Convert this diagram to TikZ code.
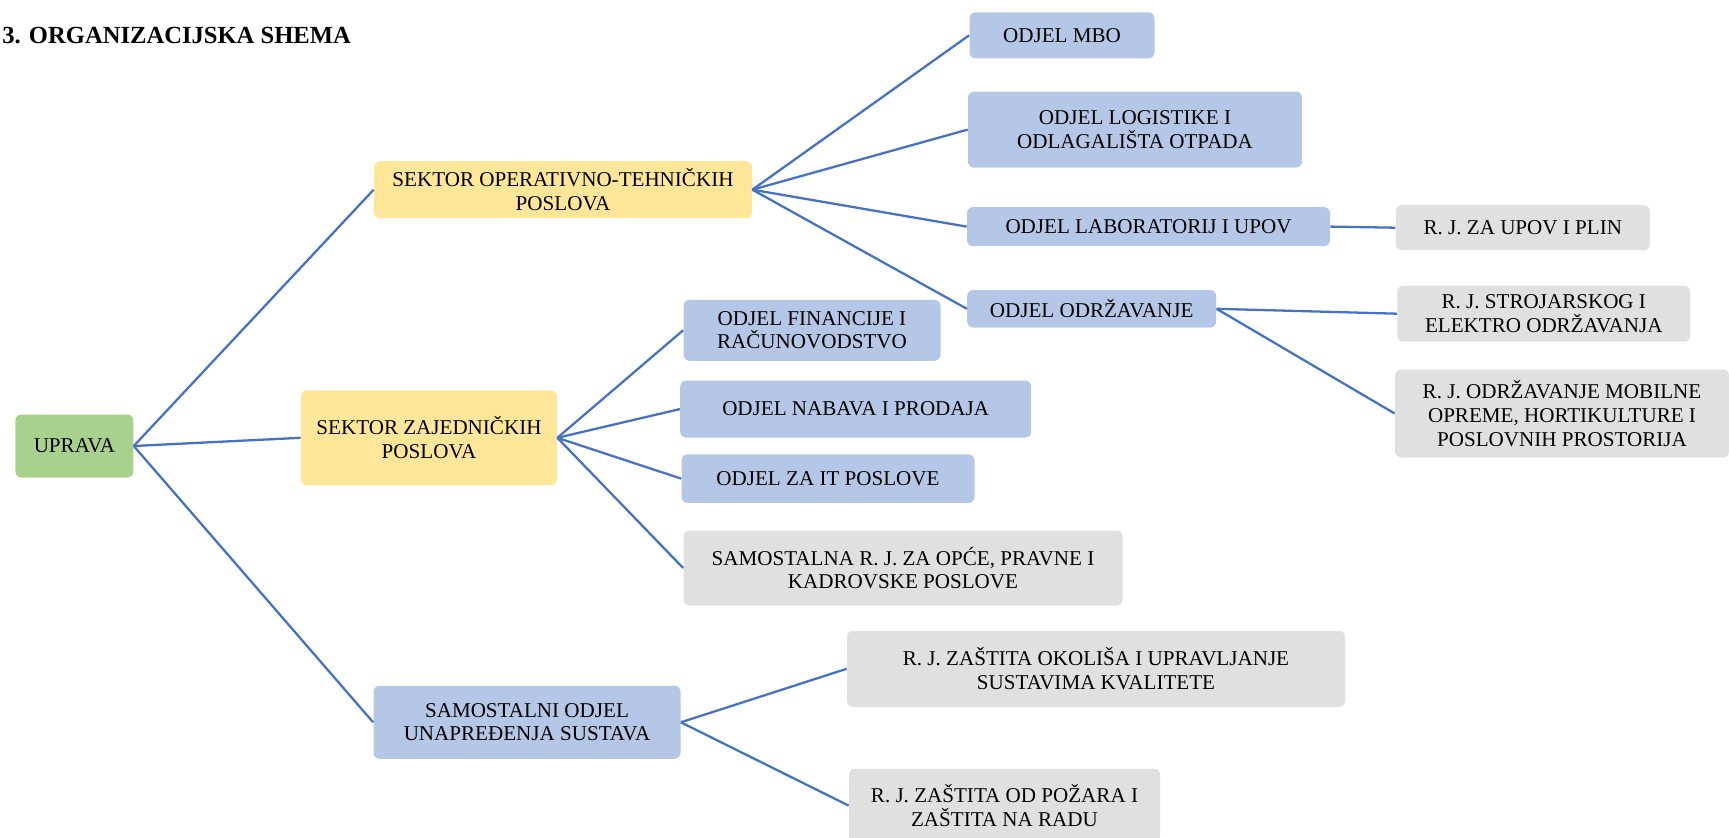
\documentclass[tikz,border=0pt]{standalone}
\usepackage{fontspec}
\setmainfont{Liberation Serif}
\usepackage{tikz}
\usetikzlibrary{positioning}
\definecolor{UpravaGreen}{RGB}{169, 209, 142}
\definecolor{SektorYellow}{RGB}{255, 230, 153}
\definecolor{OdjelBlue}{RGB}{180, 199, 231}
\definecolor{JedinicaGrey}{RGB}{224, 224, 224}
\definecolor{LinkBlue}{RGB}{68, 114, 196}

\tikzset{
  unit/.style={rounded corners=0.12cm, align=center, inner sep=2pt,
    font=\fontsize{12}{13.5}\selectfont},
  wh/.style 2 args={minimum width=#1*0.02cm, minimum height=#2*0.02cm},
  uprava/.style={unit, fill=UpravaGreen},
  sektor/.style={unit, fill=SektorYellow},
  odjel/.style={unit, fill=OdjelBlue},
  jedinica/.style={unit, fill=JedinicaGrey},
  link/.style={LinkBlue, line width=1.3pt}
}

\begin{document}
\begin{tikzpicture}[x=0.02cm, y=-0.02cm]
    \useasboundingbox (0,0) rectangle (1729,838);

    % Naslov
    \node[anchor=base west, inner sep=0pt, font=\fontsize{14}{16}\selectfont\bfseries] (naslov) at (2,44) {3. ORGANIZACIJSKA SHEMA};

    % Uprava i sektori
    \node[uprava, wh={118}{63}] (upr) at (74.4,446) {UPRAVA};
    \node[sektor, wh={378}{57}] (sot) at (563,189.7) {SEKTOR OPERATIVNO-TEHNIČKIH\\POSLOVA};
    \node[sektor, wh={256}{95}] (szp) at (429,437.8) {SEKTOR ZAJEDNIČKIH\\POSLOVA};
    \node[odjel, wh={307}{73}] (sous) at (527,722.3) {SAMOSTALNI ODJEL\\UNAPREĐENJA SUSTAVA};

    % Odjeli operativno-tehničkih poslova
    \node[odjel, wh={185}{46}] (mbo) at (1062,35.3) {ODJEL MBO};
    \node[odjel, wh={334}{76}] (log) at (1135,129.6) {ODJEL LOGISTIKE I\\ODLAGALIŠTA OTPADA};
    \node[odjel, wh={363}{39}] (lab) at (1148.5,226.6) {ODJEL LABORATORIJ I UPOV};
    \node[odjel, wh={249}{37.5}] (odr) at (1091.7,308.8) {ODJEL ODRŽAVANJE};

    % Radne jedinice
    \node[jedinica, wh={254}{45}] (upov) at (1522.8,227.7) {R. J. ZA UPOV I PLIN};
    \node[jedinica, wh={293}{56}] (stro) at (1543.8,313.7) {R. J. STROJARSKOG I\\ELEKTRO ODRŽAVANJA};
    \node[jedinica, wh={334}{88}] (mob) at (1562,413.5) {R. J. ODRŽAVANJE MOBILNE\\OPREME, HORTIKULTURE I\\POSLOVNIH PROSTORIJA};

    % Odjeli zajedničkih poslova
    \node[odjel, wh={257}{61}] (fin) at (812,330.3) {ODJEL FINANCIJE I\\RAČUNOVODSTVO};
    \node[odjel, wh={351}{57}] (nab) at (855.7,409.1) {ODJEL NABAVA I PRODAJA};
    \node[odjel, wh={293}{48.5}] (it) at (828,478.6) {ODJEL ZA IT POSLOVE};
    \node[jedinica, wh={439}{75}] (sam) at (903,568) {SAMOSTALNA R. J. ZA OPĆE, PRAVNE I\\KADROVSKE POSLOVE};

    % Unapređenje sustava
    \node[jedinica, wh={498}{76}] (zo) at (1096,668.8) {R. J. ZAŠTITA OKOLIŠA I UPRAVLJANJE\\SUSTAVIMA KVALITETE};
    \node[jedinica, wh={311}{74}] (zp) at (1004.5,805.6) {R. J. ZAŠTITA OD POŽARA I\\ZAŠTITA NA RADU};

    % Veze
    \foreach \c in {sot,szp,sous}
        \draw[link] (upr.east) -- (\c.west);
    \foreach \c in {mbo,log,lab,odr}
        \draw[link] (sot.east) -- (\c.west);
    \foreach \c in {fin,nab,it,sam}
        \draw[link] (szp.east) -- (\c.west);
    \foreach \c in {stro,mob}
        \draw[link] (odr.east) -- (\c.west);
    \draw[link] (lab.east) -- (upov.west);
    \foreach \c in {zo,zp}
        \draw[link] (sous.east) -- (\c.west);
\end{tikzpicture}
\end{document}
